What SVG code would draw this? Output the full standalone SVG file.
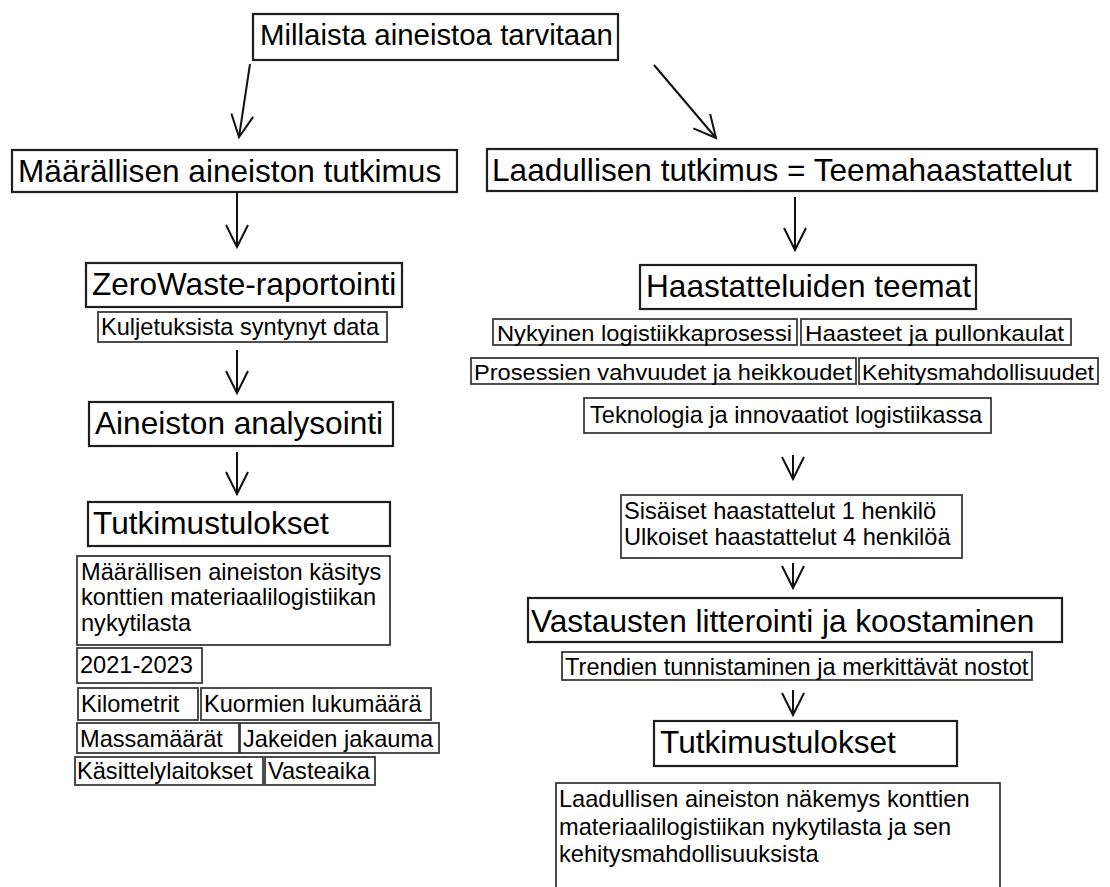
<svg xmlns="http://www.w3.org/2000/svg" width="1110" height="887" viewBox="0 0 1110 887">
  <style>
    text { font-family: "Liberation Sans", Arial, sans-serif; fill: #000; }
    .big { font-size: 31.6px; }
    .top { font-size: 29.4px; }
    .small { font-size: 23.6px; }
    .tight { font-size: 22.5px; }
    .box { fill: #fff; stroke: #1e1e1e; stroke-width: 2.2; }
    .sbox { fill: #fff; stroke: #3a3a3a; stroke-width: 1.8; }
    .conn { stroke: #111; stroke-width: 2; fill: none; marker-end: url(#open); }
  </style>
  <defs>
    <marker id="open" markerUnits="userSpaceOnUse" orient="auto" overflow="visible" markerWidth="1" markerHeight="1" refX="0" refY="0">
      <path d="M-22,-11 L0,0 L-22,11" fill="none" stroke="#111" stroke-width="2" stroke-linejoin="miter"/>
    </marker>
  </defs>
  <rect width="1110" height="887" fill="#fff"/>

  <!-- connectors -->
  <g id="connectors">
    <path class="conn" d="M250,64 L239,137"/>
    <path class="conn" d="M654,65 L716,138"/>
    <path class="conn" d="M237,193 L237,247"/>
    <path class="conn" d="M795,197 L795,250"/>
    <path class="conn" d="M237,350 L237,393"/>
    <path class="conn" d="M237,452 L237,494"/>
    <path class="conn" d="M793,455 L793,479"/>
    <path class="conn" d="M793,563 L793,588"/>
    <path class="conn" d="M793,690 L793,715"/>
  </g>

  <!-- root question -->
  <g id="n-millaista">
    <rect class="box" x="253" y="14" width="365" height="46"/>
    <text class="top" x="260" y="45">Millaista aineistoa tarvitaan</text>
  </g>

  <!-- quantitative branch -->
  <g id="n-maarallinen">
    <rect class="box" x="12" y="150" width="445" height="42"/>
    <text class="big" x="18" y="182">Määrällisen aineiston tutkimus</text>
  </g>
  <g id="n-zerowaste">
    <rect class="box" x="86" y="263" width="316" height="44"/>
    <text class="big" x="92" y="295">ZeroWaste-raportointi</text>
  </g>
  <g id="n-kuljetukset">
    <rect class="sbox" x="98" y="312" width="289" height="30"/>
    <text class="small" x="101" y="335">Kuljetuksista syntynyt data</text>
  </g>
  <g id="n-analysointi">
    <rect class="box" x="89" y="402" width="304" height="44"/>
    <text class="big" x="95" y="434">Aineiston analysointi</text>
  </g>
  <g id="n-tulokset-l">
    <rect class="box" x="88" y="502" width="302" height="44"/>
    <text class="big" x="93" y="534">Tutkimustulokset</text>
  </g>
  <g id="n-kasitys">
    <rect class="sbox" x="77" y="556" width="313" height="89"/>
    <text class="small" x="81" y="580">Määrällisen aineiston käsitys</text>
    <text class="small" x="81" y="605">konttien materiaalilogistiikan</text>
    <text class="small" x="81" y="631">nykytilasta</text>
  </g>
  <g id="n-vuodet">
    <rect class="sbox" x="77" y="648" width="125" height="35"/>
    <text class="small" x="80" y="673">2021-2023</text>
  </g>
  <g id="n-kilometrit">
    <rect class="sbox" x="78" y="688" width="120" height="32"/>
    <text class="small" x="81" y="712">Kilometrit</text>
  </g>
  <g id="n-kuormat">
    <rect class="sbox" x="201" y="688" width="230" height="32"/>
    <text class="small" x="204" y="712">Kuormien lukumäärä</text>
  </g>
  <g id="n-massat">
    <rect class="sbox" x="77" y="723" width="162" height="30"/>
    <text class="small" x="80" y="747">Massamäärät</text>
  </g>
  <g id="n-jakeet">
    <rect class="sbox" x="240" y="723" width="199" height="30"/>
    <text class="small" x="243" y="747">Jakeiden jakauma</text>
  </g>
  <g id="n-laitokset">
    <rect class="sbox" x="75" y="757" width="188" height="28"/>
    <text class="small" x="77" y="779">Käsittelylaitokset</text>
  </g>
  <g id="n-vasteaika">
    <rect class="sbox" x="265" y="757" width="110" height="28"/>
    <text class="small" x="268" y="779">Vasteaika</text>
  </g>

  <!-- qualitative branch -->
  <g id="n-laadullinen">
    <rect class="box" x="487" y="149" width="610" height="42"/>
    <text class="big" x="492" y="181">Laadullisen tutkimus = Teemahaastattelut</text>
  </g>
  <g id="n-teemat">
    <rect class="box" x="640" y="265" width="336" height="44"/>
    <text class="big" x="646" y="297">Haastatteluiden teemat</text>
  </g>
  <g id="n-nykyinen">
    <rect class="sbox" x="493" y="319" width="304" height="26"/>
    <text class="tight" x="497" y="341" textLength="295" lengthAdjust="spacingAndGlyphs">Nykyinen logistiikkaprosessi</text>
  </g>
  <g id="n-haasteet">
    <rect class="sbox" x="801" y="319" width="270" height="26"/>
    <text class="tight" x="805" y="341" textLength="259" lengthAdjust="spacingAndGlyphs">Haasteet ja pullonkaulat</text>
  </g>
  <g id="n-vahvuudet">
    <rect class="sbox" x="471" y="358" width="385" height="26"/>
    <text class="tight" x="474" y="380" textLength="378" lengthAdjust="spacingAndGlyphs">Prosessien vahvuudet ja heikkoudet</text>
  </g>
  <g id="n-kehitys">
    <rect class="sbox" x="859" y="358" width="239" height="26"/>
    <text class="tight" x="862" y="380" textLength="232" lengthAdjust="spacingAndGlyphs">Kehitysmahdollisuudet</text>
  </g>
  <g id="n-teknologia">
    <rect class="sbox" x="584" y="398" width="407" height="35"/>
    <text class="small" x="590" y="423">Teknologia ja innovaatiot logistiikassa</text>
  </g>
  <g id="n-haastattelut">
    <rect class="sbox" x="621" y="495" width="341" height="63"/>
    <text class="small" x="624" y="519">Sisäiset haastattelut 1 henkilö</text>
    <text class="small" x="624" y="545">Ulkoiset haastattelut 4 henkilöä</text>
  </g>
  <g id="n-litterointi">
    <rect class="box" x="528" y="598" width="534" height="44"/>
    <text class="big" x="531" y="632">Vastausten litterointi ja koostaminen</text>
  </g>
  <g id="n-trendit">
    <rect class="sbox" x="562" y="652" width="470" height="28"/>
    <text class="small" x="565" y="675">Trendien tunnistaminen ja merkittävät nostot</text>
  </g>
  <g id="n-tulokset-r">
    <rect class="box" x="654" y="721" width="303" height="45"/>
    <text class="big" x="660" y="753">Tutkimustulokset</text>
  </g>
  <g id="n-nakemys">
    <rect class="sbox" x="556" y="783" width="444" height="130"/>
    <text class="small" x="559" y="807">Laadullisen aineiston näkemys konttien</text>
    <text class="small" x="559" y="835">materiaalilogistiikan nykytilasta ja sen</text>
    <text class="small" x="559" y="862">kehitysmahdollisuuksista</text>
  </g>
</svg>
